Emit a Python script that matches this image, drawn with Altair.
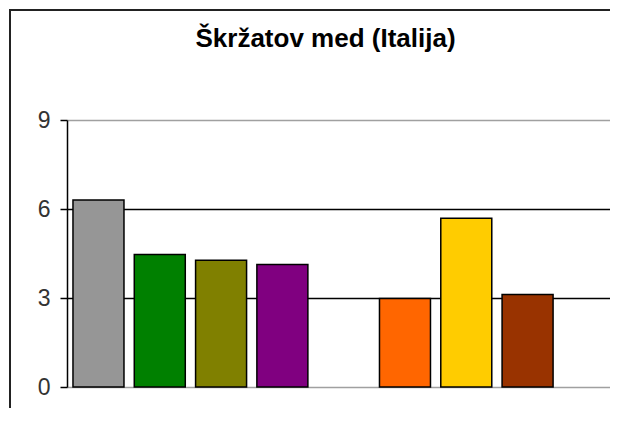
import altair as alt
import pandas as pd

title_text = "Škržatov med (Italija)"

# slots on the x axis (an empty slot keeps the gap of the original)
categories = ["K1", "K2", "K3", "K4", "K5", "K6", "K7", "K8"]
values = [6.3, 4.47, 4.27, 4.13, None, 2.98, 5.69, 3.12]
colors = ["#969696", "#008000", "#808000", "#800080", None,
          "#FF6600", "#FFCC00", "#993300"]

y_ticks = [0, 3, 6, 9]

present = [c for c, v in zip(categories, values) if v is not None]
present_vals = [v for v in values if v is not None]
present_cols = [col for col, v in zip(colors, values) if v is not None]

df = pd.DataFrame({"kat": present, "vrednost": present_vals})

bars = alt.Chart(df).mark_bar(stroke="black", strokeWidth=1.5).encode(
    x=alt.X("kat:N", sort=categories,
            scale=alt.Scale(domain=categories, paddingInner=0.168, paddingOuter=0.513,
                            align=0.095),
            axis=None),
    y=alt.Y("vrednost:Q",
            scale=alt.Scale(domain=[0, 9], nice=False),
            axis=alt.Axis(values=y_ticks, title=None, tickSize=7, labelPadding=10,
                          labelFontSize=23, labelColor="#333333", labelFont="Liberation Sans",
                          domainColor="black", domainWidth=1.5,
                          tickColor="black", tickWidth=1.5,
                          grid=True, gridWidth=1.5,
                          gridColor={"condition": {"test": "datum.value === 3 || datum.value === 6",
                                                   "value": "#000000"},
                                     "value": "#a0a0a0"})),
    color=alt.Color("kat:N", scale=alt.Scale(domain=present, range=present_cols), legend=None),
)

frame = alt.Chart(pd.DataFrame({"okvir": [1]})).mark_rect(
    filled=False, stroke="#222222", strokeWidth=2
).encode(
    x=alt.value(-57), x2=alt.value(700),
    y=alt.value(-110), y2=alt.value(400),
)

chart = alt.layer(frame, bars).properties(
    width=543,
    height=267,
    autosize="none",
    padding={"left": 59, "top": 112, "right": 0, "bottom": 21},
    title=alt.TitleParams(title_text, fontSize=26, font="Liberation Sans",
                          fontWeight="bold", anchor="middle", offset=-43, dx=-13,
                          color="black"),
).configure_view(strokeWidth=0)

chart.save("out.html", embed_options={"renderer": "svg", "actions": False})
